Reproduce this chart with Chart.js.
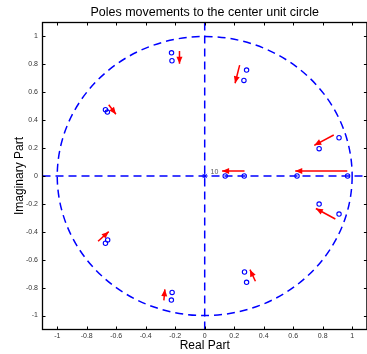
<!DOCTYPE html>
<html><head><meta charset="utf-8">
<script src="https://cdn.jsdelivr.net/npm/chart.js@4"></script>
<style>
html,body{margin:0;padding:0;overflow:hidden;background:#fff;width:367px;height:354px}
#wrap{width:372px;height:354px;overflow:hidden}
canvas{display:block}
</style></head>
<body><div id="wrap"><canvas id="c" width="372" height="354"></canvas></div>
<script>
// ---- chart text ----
const titleText = 'Poles movements to the center unit circle';
const xLabel = 'Real Part';
const yLabel = 'Imaginary Part';

// ---- ticks ----
const tickValues = [-1, -0.8, -0.6, -0.4, -0.2, 0, 0.2, 0.4, 0.6, 0.8, 1];
const tickLabels = ['-1', '-0.8', '-0.6', '-0.4', '-0.2', '0', '0.2', '0.4', '0.6', '0.8', '1'];
const axisMin = -1.1;
const axisMax = 1.1;

// ---- poles (blue circles) ----
const poleRe = [-0.225, -0.222, 0.284, 0.266, -0.673, -0.660, 0.911, 0.776, 0.139, 0.268, 0.626, 0.969, -0.658, -0.673, 0.776, 0.911, 0.270, 0.284, -0.221, -0.226];
const poleIm = [0.883, 0.826, 0.759, 0.685, 0.475, 0.458, 0.274, 0.196, 0, 0, 0, 0, -0.458, -0.482, -0.201, -0.273, -0.688, -0.762, -0.834, -0.889];

// ---- zeros at origin ----
const zeroRe = [0];
const zeroIm = [0];
const zeroCountLabel = '10';
const zeroLabelRe = 0.04;
const zeroLabelIm = 0.03;

// ---- movement arrows (red) ----
const arrowStartRe = [-0.171, 0.237, -0.651, 0.875, 0.270, 0.967, -0.723, 0.886, 0.344, -0.277];
const arrowStartIm = [0.896, 0.795, 0.510, 0.294, 0.036, 0.036, -0.468, -0.308, -0.754, -0.891];
const arrowEndRe   = [-0.171, 0.206, -0.602, 0.743, 0.118, 0.614, -0.651, 0.754, 0.307, -0.270];
const arrowEndIm   = [0.805, 0.665, 0.443, 0.220, 0.036, 0.036, -0.399, -0.233, -0.671, -0.812];

// ---- unit circle ----
const unitRadius = 1;

const BLUE = '#0000ff';
const RED = '#ff0000';
const FONT = "'Liberation Sans', Arial, Helvetica, sans-serif";
const DASH = [8, 5];

const datasets = [];
datasets.push({ label: 'realAxis', data: [{x: axisMin, y: 0}, {x: axisMax, y: 0}], showLine: true,
  borderColor: BLUE, borderWidth: 1.5, borderDash: DASH, pointRadius: 0 });
datasets.push({ label: 'imagAxis', data: [{x: 0, y: axisMin}, {x: 0, y: axisMax}], showLine: true,
  borderColor: BLUE, borderWidth: 1.5, borderDash: DASH, pointRadius: 0 });
datasets.push({ label: 'poles', data: poleRe.map((r, i) => ({x: r, y: poleIm[i]})), showLine: false,
  pointStyle: 'circle', pointRadius: 2.2, borderColor: BLUE, backgroundColor: 'rgba(0,0,0,0)', borderWidth: 1.1 });
datasets.push({ label: 'zeros', data: zeroRe.map((r, i) => ({x: r, y: zeroIm[i]})), showLine: false,
  pointStyle: 'star', pointRadius: 3, borderColor: BLUE, backgroundColor: BLUE, borderWidth: 1 });
arrowStartRe.forEach((r, i) => {
  datasets.push({ label: 'arrow' + i, isArrow: true,
    data: [{x: r, y: arrowStartIm[i]}, {x: arrowEndRe[i], y: arrowEndIm[i]}], showLine: true,
    borderColor: RED, borderWidth: 1.5, pointRadius: 0 });
});

const decor = {
  id: 'decor',
  beforeDatasetsDraw(chart) {
    const {ctx, chartArea: a, scales: {x, y}} = chart;
    ctx.save();
    ctx.beginPath(); ctx.rect(a.left, a.top, a.right - a.left, a.bottom - a.top); ctx.clip();
    const cx = x.getPixelForValue(0), cy = y.getPixelForValue(0);
    const rx = Math.abs(x.getPixelForValue(unitRadius) - cx);
    const ry = Math.abs(y.getPixelForValue(unitRadius) - cy);
    ctx.strokeStyle = BLUE; ctx.lineWidth = 1.5; ctx.setLineDash(DASH);
    ctx.beginPath(); ctx.ellipse(cx, cy, rx, ry, 0, 0, Math.PI * 2); ctx.stroke();
    ctx.restore();
  },
  afterDatasetsDraw(chart) {
    const {ctx, scales: {x, y}} = chart;
    ctx.save();
    chart.data.datasets.forEach((ds, i) => {
      if (!ds.isArrow) return;
      const pts = chart.getDatasetMeta(i).data;
      const p0 = pts[0], p1 = pts[1];
      const ang = Math.atan2(p1.y - p0.y, p1.x - p0.x);
      const L = 7, W = 3;
      ctx.fillStyle = RED;
      ctx.beginPath();
      ctx.moveTo(p1.x, p1.y);
      ctx.lineTo(p1.x - L * Math.cos(ang) + W * Math.sin(ang), p1.y - L * Math.sin(ang) - W * Math.cos(ang));
      ctx.lineTo(p1.x - L * Math.cos(ang) - W * Math.sin(ang), p1.y - L * Math.sin(ang) + W * Math.cos(ang));
      ctx.closePath(); ctx.fill();
    });
    ctx.fillStyle = '#555';
    ctx.font = '7px ' + FONT;
    ctx.textAlign = 'left'; ctx.textBaseline = 'middle';
    ctx.fillText(zeroCountLabel, x.getPixelForValue(zeroLabelRe), y.getPixelForValue(zeroLabelIm));
    ctx.restore();
  },
  afterDraw(chart) {
    const {ctx, chartArea: a, scales: {x, y}} = chart;
    ctx.save();
    ctx.strokeStyle = '#000'; ctx.lineWidth = 1.3; ctx.setLineDash([]);
    ctx.strokeRect(a.left, a.top, a.right - a.left, a.bottom - a.top);
    ctx.lineWidth = 1;
    const T = 3;
    ctx.beginPath();
    tickValues.forEach(v => {
      const px = Math.round(x.getPixelForValue(v)) + 0.5;
      ctx.moveTo(px, a.bottom); ctx.lineTo(px, a.bottom - T);
      ctx.moveTo(px, a.top); ctx.lineTo(px, a.top + T);
      const py = Math.round(y.getPixelForValue(v)) + 0.5;
      ctx.moveTo(a.left, py); ctx.lineTo(a.left + T, py);
      ctx.moveTo(a.right, py); ctx.lineTo(a.right - T, py);
    });
    ctx.stroke();
    ctx.restore();
  }
};

const tickFont = { family: FONT, size: 7 };
const noGrid = { display: false, drawTicks: false, tickLength: 0, drawOnChartArea: false };
new Chart(document.getElementById('c'), {
  type: 'scatter',
  data: { datasets },
  options: {
    responsive: false, animation: false, devicePixelRatio: 1,
    layout: { padding: 0 },
    plugins: {
      legend: { display: false }, tooltip: { enabled: false },
      title: { display: true, text: titleText, fullSize: false, color: '#000',
        font: { family: FONT, size: 12.5, weight: 'normal' }, padding: { top: 5, bottom: 2.5 } }
    },
    scales: {
      x: {
        type: 'linear', position: 'bottom', min: axisMin, max: axisMax,
        afterBuildTicks: s => { s.ticks = tickValues.map(v => ({ value: v })); },
        afterFit: s => { s.height = 24.5; },
        ticks: { font: tickFont, color: '#333', padding: 2, maxRotation: 0, autoSkip: false,
          callback: v => tickLabels[tickValues.indexOf(v)] },
        grid: noGrid, border: { display: false },
        title: { display: true, text: xLabel, color: '#000', font: { family: FONT, size: 12 }, padding: { top: 0, bottom: 1 } }
      },
      y: {
        type: 'linear', position: 'left', min: axisMin, max: axisMax,
        afterBuildTicks: s => { s.ticks = tickValues.map(v => ({ value: v })); },
        afterFit: s => { s.width = 42.5; },
        ticks: { font: tickFont, color: '#333', padding: 4.5, autoSkip: false,
          callback: v => tickLabels[tickValues.indexOf(v)] },
        grid: noGrid, border: { display: false },
        title: { display: true, text: yLabel, color: '#000', font: { family: FONT, size: 12 }, padding: { top: 12, bottom: 0 } }
      }
    }
  },
  plugins: [decor]
});
</script>
</body></html>
